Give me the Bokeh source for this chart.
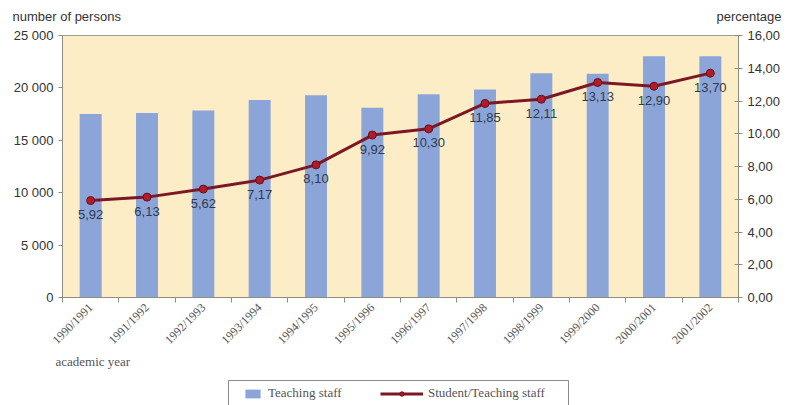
import math
from bokeh.plotting import figure
from bokeh.layouts import column
from bokeh.models import (Range1d, LinearAxis, FixedTicker, Legend, LegendItem, Label)
from bokeh.core.properties import value
from bokeh.embed import file_html
from bokeh.resources import INLINE

years = ["1990/1991", "1991/1992", "1992/1993", "1993/1994", "1994/1995", "1995/1996",
         "1996/1997", "1997/1998", "1998/1999", "1999/2000", "2000/2001", "2001/2002"]
teaching_staff = [17500, 17600, 17850, 18850, 19300, 18100,
                  19400, 19850, 21400, 21350, 23030, 23030]
ratio = [5.92, 6.13, 6.62, 7.17, 8.10, 9.92, 10.30, 11.85, 12.11, 13.13, 12.90, 13.70]
ratio_labels = ["5,92", "6,13", "5,62", "7,17", "8,10", "9,92",
                "10,30", "11,85", "12,11", "13,13", "12,90", "13,70"]
left_ticks = [0, 5000, 10000, 15000, 20000, 25000]
left_tick_labels = ["0", "5 000", "10 000", "15 000", "20 000", "25 000"]
right_ticks = [0, 2, 4, 6, 8, 10, 12, 14, 16]
right_tick_labels = ["0,00", "2,00", "4,00", "6,00", "8,00", "10,00", "12,00", "14,00", "16,00"]

SANS = "Liberation Sans"
SERIF = "Liberation Serif"
AXIS_COL = "#8e8e80"
BAR_COL = "#8ca5d8"
LINE_COL = "#7c1823"
MARK_FILL = "#b01c2c"
MARK_LINE = "#6a0f18"
W = 788


def blank(height):
    f = figure(width=W, height=height, output_backend="svg", toolbar_location=None,
               x_range=Range1d(0, W), y_range=Range1d(height, 0),
               x_axis_location=None, y_axis_location=None,
               min_border=0, min_border_left=0, min_border_right=0,
               min_border_top=0, min_border_bottom=0,
               background_fill_color="white", border_fill_color="white")
    f.outline_line_color = None
    f.grid.visible = False
    if hasattr(f, "frame_align"):
        f.frame_align = False
    return f


# ---------- header ----------
head = blank(26)
head.add_layout(Label(x=12, y=16, text="number of persons", text_font=SANS,
                      text_font_size="13px", text_color="#333333",
                      text_baseline="middle", text_align="left"))
head.add_layout(Label(x=781, y=16, text="percentage", text_font=SANS,
                      text_font_size="13px", text_color="#333333",
                      text_baseline="middle", text_align="right"))

# ---------- main chart ----------
n = len(years)
xc = [i + 0.5 for i in range(n)]

p = figure(width=W, height=328, output_backend="svg", toolbar_location=None,
           x_range=Range1d(0, n), y_range=Range1d(0, 25000),
           min_border_left=62, min_border_right=50, min_border_top=9, min_border_bottom=57,
           background_fill_color="#fdedc6", border_fill_color="white")
p.outline_line_color = "#a0a090"
p.grid.visible = False
p.extra_y_ranges = {"pct": Range1d(0, 16)}

bars = p.vbar(x=xc, top=teaching_staff, width=0.39, fill_color=BAR_COL, line_color=None)
line = p.line(x=xc, y=ratio, y_range_name="pct", line_color=LINE_COL, line_width=3)
pts = p.scatter(x=xc, y=ratio, y_range_name="pct", size=8, fill_color=MARK_FILL,
                line_color=MARK_LINE, line_width=1)
p.text(x=xc, y=ratio, text=ratio_labels, y_range_name="pct", y_offset=14,
       text_align="center", text_baseline="middle", text_font=value(SANS),
       text_font_size="13px", text_color="#2f3b4d")

xa = p.xaxis[0]
xa.ticker = FixedTicker(ticks=xc, minor_ticks=list(range(n + 1)))
xa.major_label_overrides = {xc[i]: years[i] for i in range(n)}
xa.major_tick_line_color = None
xa.major_tick_out = 0
xa.major_tick_in = 0
xa.minor_tick_out = 5
xa.minor_tick_in = 0
xa.minor_tick_line_color = AXIS_COL
xa.axis_line_color = AXIS_COL
xa.major_label_orientation = math.pi / 4
xa.major_label_text_font = SERIF
xa.major_label_text_font_size = "12px"
xa.major_label_text_color = "#555555"
xa.major_label_standoff = 3

ya = p.yaxis[0]
ya.ticker = FixedTicker(ticks=left_ticks, minor_ticks=[])
ya.major_label_overrides = {left_ticks[i]: left_tick_labels[i] for i in range(len(left_ticks))}
ya.major_tick_out = 4
ya.major_tick_in = 0
ya.minor_tick_line_color = None
ya.axis_line_color = AXIS_COL
ya.major_tick_line_color = AXIS_COL
ya.major_label_text_font = SANS
ya.major_label_text_font_size = "13px"
ya.major_label_text_color = "#333333"
ya.major_label_standoff = 5

ra = LinearAxis(y_range_name="pct")
ra.ticker = FixedTicker(ticks=right_ticks, minor_ticks=[])
ra.major_label_overrides = {right_ticks[i]: right_tick_labels[i] for i in range(len(right_ticks))}
ra.major_tick_out = 4
ra.major_tick_in = 4
ra.minor_tick_line_color = None
ra.axis_line_color = AXIS_COL
ra.major_tick_line_color = AXIS_COL
ra.major_label_text_font = SANS
ra.major_label_text_font_size = "13px"
ra.major_label_text_color = "#333333"
ra.major_label_standoff = 5
p.add_layout(ra, "right")

# ---------- footer: x title + legend ----------
foot = blank(51)
foot.add_layout(Label(x=55, y=7, text="academic year", text_font=SERIF,
                      text_font_size="13px", text_color="#555555",
                      text_baseline="middle", text_align="left"))
foot.quad(left=[228], right=[568], top=[26], bottom=[75], fill_color="white",
          line_color="#8a8a8a", line_width=1)
d_bar = foot.vbar(x=[-100], top=[-100], bottom=[-120], width=1, fill_color=BAR_COL, line_color=None)
d_line = foot.line(x=[-100, -90], y=[-100, -100], line_color=LINE_COL, line_width=3)
d_pts = foot.scatter(x=[-100], y=[-100], size=8, fill_color=MARK_FILL, line_color=MARK_LINE)

leg_b = Legend(items=[LegendItem(label="Teaching staff", renderers=[d_bar])], location=(243, 4),
               padding=0, glyph_width=19, glyph_height=11, label_standoff=6,
               border_line_color=None, background_fill_alpha=0,
               label_text_font=SERIF, label_text_font_size="13px", label_text_color="#555555")
foot.add_layout(leg_b)
leg_c = Legend(items=[LegendItem(label="Student/Teaching staff", renderers=[d_line, d_pts])],
               location=(380, 4),
               padding=0, glyph_width=43, glyph_height=11, label_standoff=5,
               border_line_color=None, background_fill_alpha=0,
               label_text_font=SERIF, label_text_font_size="13px", label_text_color="#555555")
foot.add_layout(leg_c)

layout = column(head, p, foot, spacing=0)
open("out.html", "w").write(file_html(layout, INLINE))
